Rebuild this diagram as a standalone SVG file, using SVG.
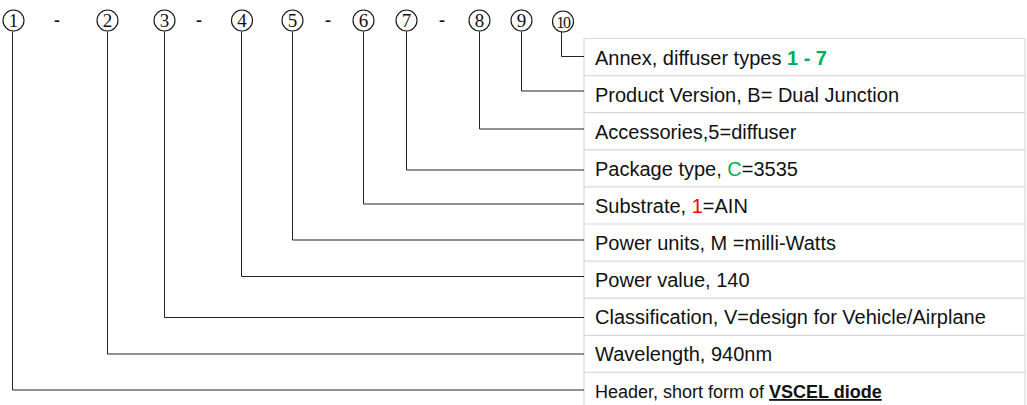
<svg xmlns="http://www.w3.org/2000/svg" width="1027" height="405" viewBox="0 0 1027 405">
<style>
.c{fill:#fff;stroke:#111;stroke-width:1.1}
.n{font-family:"Liberation Serif","DejaVu Serif",serif;font-size:19px;fill:#111;text-anchor:middle}
.d{font-family:"Liberation Serif","DejaVu Serif",serif;font-size:18px;font-weight:bold;fill:#111;text-anchor:middle}
.l{fill:none;stroke:#222;stroke-width:1}
.g{stroke:#d9d9d9;stroke-width:1.2;fill:none}
.t{font-family:"Liberation Sans",Arial,sans-serif;font-size:20px;fill:#111}
.h{font-size:18px}
.gr{fill:#00b050}
.rd{fill:#ff0000}
</style>
<rect width="1027" height="405" fill="#fff"/>
<g id="table">
<path class="g" d="M584,38.5H1025M584,75.6H1025M584,112.7H1025M584,149.8H1025M584,186.9H1025M584,224H1025M584,261.1H1025M584,298.2H1025M584,335.3H1025M584,372.4H1025M584,38.5V405M1025,38.5V405"/>
</g>
<g id="connectors">
<path class="l" d="M12.5,31.5V390H584"/>
<path class="l" d="M107.5,31.5V354H584"/>
<path class="l" d="M164.5,31.5V317.5H584"/>
<path class="l" d="M241.5,31.5V276.5H584"/>
<path class="l" d="M292.5,31.5V240H584"/>
<path class="l" d="M363.5,31.5V204H584"/>
<path class="l" d="M406.5,31.5V170H584"/>
<path class="l" d="M479.5,31.5V129H584"/>
<path class="l" d="M521.5,31.5V91H584"/>
<path class="l" d="M561.5,32V56.5H584"/>
</g>
<g id="codes">
<g id="n1"><circle class="c" cx="13.5" cy="20.5" r="10.5"/><text class="n" x="13.5" y="27.3">1</text></g>
<text class="d" x="57" y="26">-</text>
<g id="n2"><circle class="c" cx="107.5" cy="20.5" r="10.5"/><text class="n" x="107.5" y="27.3">2</text></g>
<g id="n3"><circle class="c" cx="164.5" cy="20.5" r="10.5"/><text class="n" x="164.5" y="27.3">3</text></g>
<text class="d" x="199" y="26">-</text>
<g id="n4"><circle class="c" cx="242" cy="20.5" r="10.5"/><text class="n" x="242" y="27.3">4</text></g>
<g id="n5"><circle class="c" cx="292.5" cy="20.5" r="10.5"/><text class="n" x="292.5" y="27.3">5</text></g>
<text class="d" x="328" y="26">-</text>
<g id="n6"><circle class="c" cx="363.5" cy="20.5" r="10.5"/><text class="n" x="363.5" y="27.3">6</text></g>
<g id="n7"><circle class="c" cx="406.5" cy="20.5" r="10.5"/><text class="n" x="406.5" y="27.3">7</text></g>
<text class="d" x="442" y="26">-</text>
<g id="n8"><circle class="c" cx="479.5" cy="20.5" r="10.5"/><text class="n" x="479.5" y="27.3">8</text></g>
<g id="n9"><circle class="c" cx="521.5" cy="20.5" r="10.5"/><text class="n" x="521.5" y="27.3">9</text></g>
<g id="n10"><circle class="c" cx="563" cy="21.5" r="10.5"/><text class="n" x="563" y="27.5" style="font-size:16px;letter-spacing:-1.5px">10</text></g>
</g>
<g id="labels">
<text class="t" x="595" y="65">Annex, diffuser types <tspan class="gr" font-weight="bold">1 - 7</tspan></text>
<text class="t" x="595" y="101.5">Product Version, B= Dual Junction</text>
<text class="t" x="595" y="138.5">Accessories,5=diffuser</text>
<text class="t" x="595" y="175.5">Package type, <tspan class="gr">C</tspan>=3535</text>
<text class="t" x="595" y="212.5">Substrate, <tspan class="rd">1</tspan>=AIN</text>
<text class="t" x="595" y="249.5">Power units, M =milli-Watts</text>
<text class="t" x="595" y="286.5">Power value, 140</text>
<text class="t" x="595" y="323.5">Classification, V=design for Vehicle/Airplane</text>
<text class="t" x="595" y="360.5">Wavelength, 940nm</text>
<text class="t h" x="595" y="398">Header, short form of <tspan font-weight="bold" text-decoration="underline">VSCEL diode</tspan></text>
</g>
</svg>
